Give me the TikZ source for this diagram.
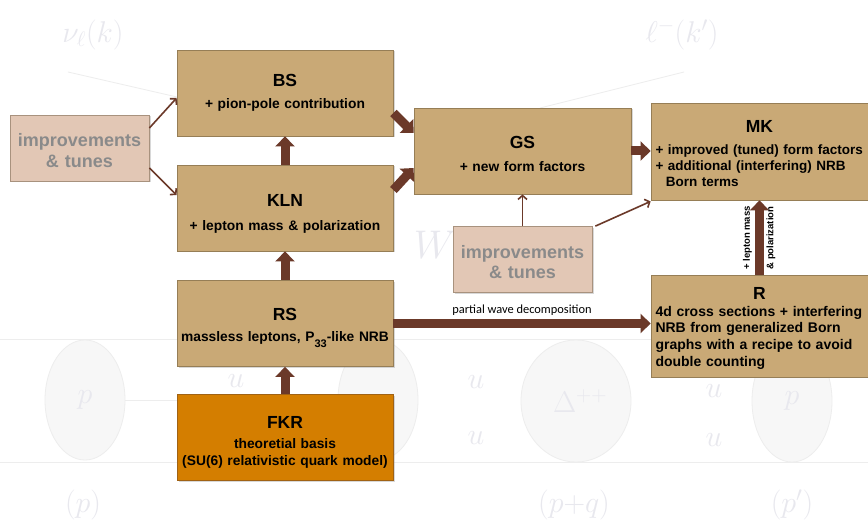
\documentclass[tikz,border=0pt]{standalone}
\usepackage{fix-cm}
\usepackage{fontspec}
\setmainfont{Liberation Sans}
\newfontfamily\calfont{Carlito}
\usetikzlibrary{arrows.meta,shadows}
\definecolor{boxfill}{RGB}{201,169,118}
\definecolor{boxline}{RGB}{150,126,86}
\definecolor{fkrfill}{RGB}{212,126,0}
\definecolor{fkrline}{RGB}{160,98,20}
\definecolor{impfill}{RGB}{226,199,181}
\definecolor{impline}{RGB}{168,146,126}
\definecolor{imptext}{RGB}{138,138,138}
\definecolor{arrowc}{RGB}{107,57,41}
\definecolor{bgtext}{RGB}{232,232,238}
\definecolor{bgfill}{RGB}{247,247,247}
\definecolor{bgline}{RGB}{237,237,237}
\newcommand\boxttl{\fontsize{17.5}{17.5}\selectfont\bfseries}
\newcommand\tstrut[1]{\rule{0pt}{#1}}
\begin{document}
\begin{tikzpicture}[x=1pt,y=-1pt,
 basebox/.style={draw=boxline,line width=0.8pt,fill=boxfill,inner sep=0pt,
   minimum width=216pt,minimum height=86pt,
   drop shadow={shadow xshift=1.5pt,shadow yshift=-1.5pt,opacity=0.3},
   font=\fontsize{13.8}{16.5}\selectfont\bfseries,align=center,text width=210pt},
 fkrbox/.style={basebox,fill=fkrfill,draw=fkrline},
 leftbox/.style={basebox,align=left,text width=208pt},
 impbox/.style={basebox,fill=impfill,draw=impline,minimum width=139pt,minimum height=66pt,
   text width=135pt,text=imptext,font=\fontsize{18}{20.5}\selectfont\bfseries},
 bigarrow/.style={draw=arrowc,line width=9pt,-{Triangle[width=19pt,length=10pt]}},
 thinarrow/.style={draw=arrowc,line width=1.6pt,-{Straight Barb[length=4pt,width=9pt]}},
 bglabel/.style={text=bgtext,font=\fontsize{30}{30}\selectfont,inner sep=0pt},
 bgball/.style={draw=bgline,fill=bgfill,line width=0.8pt},
 sidelabel/.style={font=\fontsize{9.5}{10}\selectfont\bfseries,rotate=90,inner sep=0pt}
]
\fill[white] (0,0) rectangle (868,529);
\useasboundingbox (0,0) rectangle (868,529);

% faint background picture
\draw[bgline,line width=0.8pt] (68,72) -- (177,97);
\draw[bgline,line width=0.8pt] (684,72) -- (540,108);
\draw[bgline,line width=0.8pt] (0,339) -- (868,339);
\draw[bgline,line width=0.8pt] (0,462) -- (868,462);
\draw[bgline,line width=0.8pt] (125,400) -- (177,400);
\draw[bgball] (85,400) ellipse [x radius=40,y radius=60];
\draw[bgball] (378,400) ellipse [x radius=40,y radius=60];
\draw[bgball] (576,401) ellipse [x radius=55,y radius=61];
\draw[bgball] (792,401) ellipse [x radius=40,y radius=61];
\node[bglabel] (nu) at (93,35) {$\nu_\ell(k)$};
\node[bglabel] (lep) at (682,35) {$\ell^-(k')$};
\node[bglabel,font=\fontsize{40}{40}\selectfont] (wlab) at (435,245) {$W$};
\node[bglabel] (pin) at (85,400) {$p$};
\node[bglabel] (pout) at (792,401) {$p$};
\node[bglabel] (delta) at (580,401) {$\Delta^{++}$};
\node[bglabel] (u1) at (476,382) {$u$};
\node[bglabel] (u2) at (476,438) {$u$};
\node[bglabel] (u3) at (714,391) {$u$};
\node[bglabel] (u4) at (714,440) {$u$};
\node[bglabel] (u5) at (236,381) {$u$};
\node[bglabel] (pl) at (83,505) {$(p)$};
\node[bglabel] (pq) at (574,505) {$(p{+}q)$};
\node[bglabel] (pp) at (792,505) {$(p')$};

% boxes
\node[basebox] (bs) at (285,93) {{\boxttl BS\par}\vspace{6pt}+ pion-pole contribution};
\node[basebox] (kln) at (285,208) {{\boxttl\tstrut{23.5pt}KLN\par}\vspace{7.5pt}+ lepton mass \& polarization};
\node[basebox] (rs) at (285,323.5) {{\boxttl\tstrut{17.5pt}RS\par}\vspace{4.5pt}massless leptons, P\raisebox{-6.5pt}[0pt][0pt]{\fontsize{11}{11}\selectfont 33}-like NRB};
\node[fkrbox] (fkr) at (285,437.5) {{\boxttl\tstrut{21.1pt}FKR\par}\vspace{4.2pt}theoretial basis\\(SU(6) relativistic quark model)};
\node[basebox,minimum width=217pt] (gs) at (522.5,151) {{\boxttl\tstrut{18.5pt}GS\par}\vspace{6pt}+ new form factors};
\node[leftbox,minimum width=217pt,minimum height=97pt,font=\fontsize{13.5}{16.2}\selectfont\bfseries] (mk) at (759.5,151.5) {\makebox[\linewidth]{\boxttl\tstrut{16.6pt}MK}\par\vspace{5pt}+ improved (tuned) form factors\\+ additional (interfering) NRB\\\hspace*{10.4pt}Born terms};
\node[leftbox,minimum width=217pt,minimum height=102pt,font=\fontsize{14}{16.7}\selectfont\bfseries] (r) at (759.5,326) {\makebox[\linewidth]{\boxttl\tstrut{16.5pt}R}\\4d cross sections + interfering\\NRB from generalized Born\\graphs with a recipe to avoid\\double counting};
\node[impbox] (imp1) at (79.5,148) {\tstrut{18pt}improvements\\\& tunes};
\node[impbox] (imp2) at (522.5,259.5) {\tstrut{18pt}improvements\\\& tunes};

% connectors
\draw[thinarrow] ([yshift=20pt]imp1.east) -- ([yshift=-5pt]bs.west);
\draw[thinarrow] ([yshift=-20pt]imp1.east) -- ([yshift=13pt]kln.west);
\draw[bigarrow] (kln.north) -- (bs.south);
\draw[bigarrow] (rs.north) -- (kln.south);
\draw[bigarrow] (fkr.north) -- (rs.south);
\draw[bigarrow] ([yshift=-20pt]bs.east) -- ([yshift=18pt]gs.west);
\draw[bigarrow] ([yshift=18pt]kln.east) -- ([yshift=-17pt]gs.west);
\draw[bigarrow] (gs.east) -- (gs.east -| mk.west);
\draw[thinarrow] (imp2.north) -- (gs.south);
\draw[thinarrow] ([xshift=3pt]imp2.north east) -- ([yshift=-1pt]mk.south west);
\draw[bigarrow] (rs.east) -- (rs.east -| r.west)
  node[midway,yshift=13pt,font=\calfont\fontsize{12.4}{13}\selectfont] (pwd) {partial wave decomposition};
\draw[bigarrow] (r.north) -- (mk.south);
\node[sidelabel] (lmass) at (747.5,238) {+ lepton mass};
\node[sidelabel] (lpol) at (771,238) {\& polarization};
\end{tikzpicture}
\end{document}
